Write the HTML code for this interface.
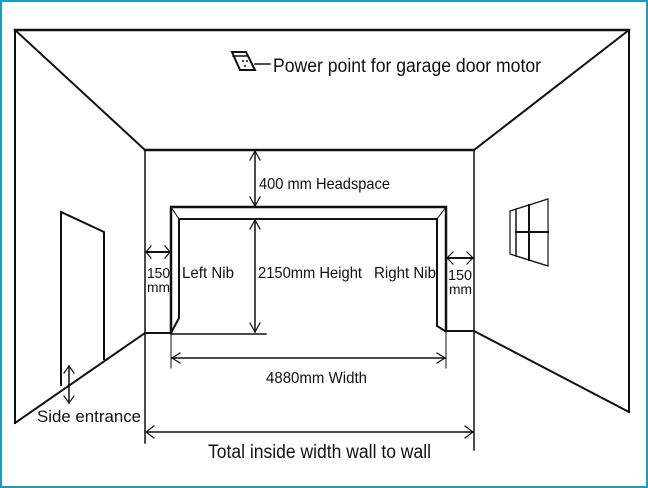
<!DOCTYPE html>
<html><head><meta charset="utf-8"><style>
html,body{margin:0;padding:0;background:#fff}
svg{display:block}
text{font-family:"Liberation Sans",sans-serif;fill:#111}
</style></head><body>
<svg width="648" height="488" viewBox="0 0 648 488" xmlns="http://www.w3.org/2000/svg">
<rect x="1" y="1" width="646" height="486" fill="#fff" stroke="#1a9cc0" stroke-width="2"/>
<g stroke="#111" stroke-width="2" fill="none" stroke-linecap="square">
<line x1="15" y1="30" x2="629" y2="30" stroke-width="2.5"/>
<line x1="15" y1="30" x2="145" y2="150"/>
<line x1="629" y1="30" x2="474" y2="150"/>
<line x1="145" y1="150" x2="474" y2="150" stroke-width="2.5"/>
<line x1="15" y1="30" x2="15" y2="423"/>
<line x1="629" y1="30" x2="629" y2="412"/>
<line x1="145" y1="150" x2="145" y2="443" stroke-width="1.5"/>
<line x1="474" y1="150" x2="474" y2="450" stroke-width="1.5"/>
<line x1="145" y1="333" x2="15" y2="423"/>
<line x1="474" y1="331" x2="629" y2="412"/>
<line x1="145" y1="333" x2="171" y2="333"/>
<line x1="446" y1="331" x2="474" y2="331"/>
<polyline points="171,333 171,207 446,207 446,331" stroke-width="2.5"/>
<polyline points="171,333 179,318 179,219 437,219 437,326 445,331"/>
<line x1="171" y1="207" x2="179" y2="219" stroke-width="1"/>
<line x1="446" y1="207" x2="437" y2="219" stroke-width="1"/>
<line x1="255" y1="151" x2="255" y2="206" stroke-width="1.5"/>
<polyline points="250,160 255,151 260,160" stroke-width="1.2"/>
<polyline points="250,197 255,206 260,197" stroke-width="1.2"/>
<line x1="255" y1="220" x2="255" y2="332" stroke-width="1.5"/>
<polyline points="250,229 255,220 260,229" stroke-width="1.2"/>
<polyline points="250,323 255,332 260,323" stroke-width="1.2"/>
<line x1="171" y1="334" x2="266" y2="334" stroke-width="1.5"/>
<line x1="171" y1="334" x2="171" y2="368" stroke-width="1"/>
<line x1="446" y1="331" x2="446" y2="368" stroke-width="1"/>
<line x1="172" y1="358" x2="445" y2="358" stroke-width="1.5"/>
<polyline points="180,353 172,358 180,363" stroke-width="1.2"/>
<polyline points="437,353 445,358 437,363" stroke-width="1.2"/>
<line x1="146" y1="432" x2="473" y2="432" stroke-width="1.5"/>
<polyline points="154,426 146,432 154,438" stroke-width="1.2"/>
<polyline points="465,426 473,432 465,438" stroke-width="1.2"/>
<line x1="146" y1="252" x2="170" y2="252" stroke-width="2"/>
<polyline points="151,246 146,252 151,258" stroke-width="1.2"/>
<polyline points="165,246 170,252 165,258" stroke-width="1.2"/>
<line x1="447" y1="258" x2="473" y2="258" stroke-width="2"/>
<polyline points="453,252 447,258 453,264" stroke-width="1.2"/>
<polyline points="467,252 473,258 467,264" stroke-width="1.2"/>
<polyline points="61,385 61,212 104,232 104,359"/>
<line x1="69" y1="366" x2="69" y2="403" stroke-width="1.5"/>
<polyline points="64,373 69,366 74,373" stroke-width="1.2"/>
<polyline points="64,396 69,403 74,396" stroke-width="1.2"/>
<polygon points="510,211 548,199 548,266 510,254" stroke-width="1.2"/>
<line x1="516" y1="209" x2="516" y2="256" stroke-width="1.5"/>
<line x1="529" y1="205" x2="529" y2="260" stroke-width="2"/>
<line x1="516" y1="232" x2="548" y2="232" stroke-width="2"/>
<line x1="516" y1="256" x2="548" y2="266" stroke-width="1.2"/>
<polygon points="232,52 246,52 255,70 240,70" stroke-width="2"/>
<line x1="233" y1="56" x2="247" y2="56" stroke-width="1.5"/>
<line x1="255" y1="64" x2="270" y2="64" stroke-width="1.5"/>
</g>
<circle cx="243" cy="61" r="1" fill="#111"/><circle cx="247" cy="61" r="1" fill="#111"/><circle cx="245" cy="66" r="1" fill="#111"/>
<text x="273" y="72" font-size="19" textLength="268" lengthAdjust="spacingAndGlyphs">Power point for garage door motor</text>
<text x="259" y="189" font-size="16" textLength="131" lengthAdjust="spacingAndGlyphs">400 mm Headspace</text>
<text x="258" y="278" font-size="16" textLength="104" lengthAdjust="spacingAndGlyphs">2150mm Height</text>
<text x="182" y="278" font-size="16" textLength="52" lengthAdjust="spacingAndGlyphs">Left Nib</text>
<text x="374" y="278" font-size="16" textLength="62" lengthAdjust="spacingAndGlyphs">Right Nib</text>
<text x="147" y="278" font-size="15" textLength="23" lengthAdjust="spacingAndGlyphs">150</text>
<text x="147" y="292" font-size="14" textLength="23" lengthAdjust="spacingAndGlyphs">mm</text>
<text x="448" y="280" font-size="15" textLength="24" lengthAdjust="spacingAndGlyphs">150</text>
<text x="449" y="294" font-size="14" textLength="23" lengthAdjust="spacingAndGlyphs">mm</text>
<text x="266" y="383" font-size="16" textLength="101" lengthAdjust="spacingAndGlyphs">4880mm Width</text>
<text x="37" y="422" font-size="17" textLength="104" lengthAdjust="spacingAndGlyphs">Side entrance</text>
<text x="208" y="458" font-size="19" textLength="223" lengthAdjust="spacingAndGlyphs">Total inside width wall to wall</text>
</svg>
</body></html>
